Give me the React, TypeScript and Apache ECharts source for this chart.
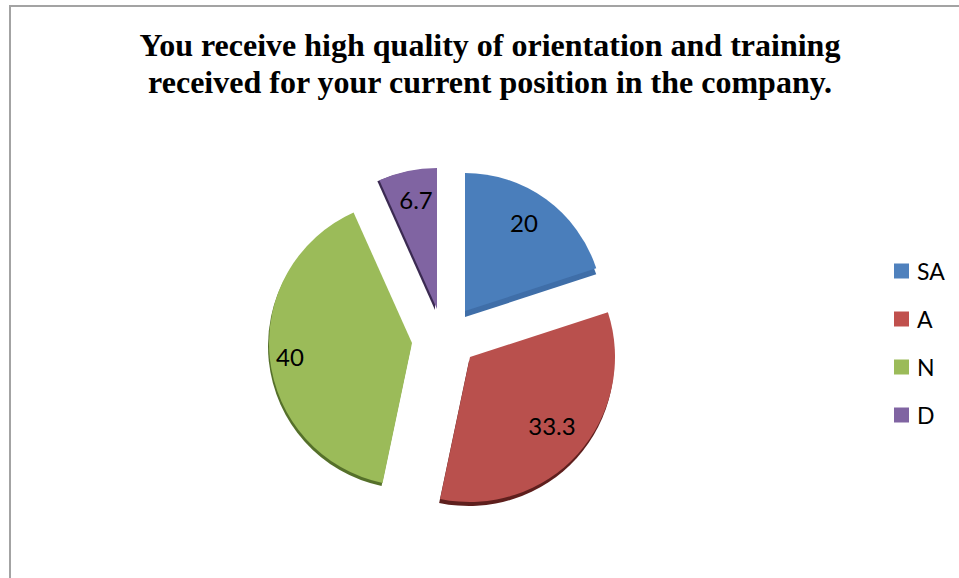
import React, { useEffect, useRef } from "react";
import * as echarts from "echarts";

const titleText = "You receive high quality of orientation and training\nreceived for your current position in the company.";
const categories = ["SA", "A", "N", "D"];
const values = [20, 33.3, 40, 6.7];
const legendColors = ["#4f81bd", "#c0504d", "#9bbb59", "#8064a2"];
const faceColors = ["#4a7ebb", "#b9504d", "#9bbb59", "#8064a2"];
const depthColors = ["#3f6ea8", "#5e1f1d", "#55702a", "#3b2a52"];
const sliceCenters = [[465, 311], [470, 357], [412, 343], [437, 309]];
const sliceRadii = [138, 145, 143, 141];
const depthShift = [[0, 6], [-1, 4], [-1, 3], [-2, 1]];
const labelSpots = [[524, 222], [552, 425], [290, 356], [416, 199]];

const sliceData = (active: number, colors: string[]) =>
  categories.map((name, i) => ({
    name,
    value: values[i],
    itemStyle: { color: i === active ? colors[i] : "rgba(0,0,0,0)" },
    label: { show: i === active },
  }));

const baseSeries = {
  type: "pie",
  startAngle: 90,
  clockwise: true,
  selectedMode: false,
  emphasis: { disabled: true },
  labelLine: { show: false },
  avoidLabelOverlap: false,
  minShowLabelAngle: 0,
};

export default function App() {
  const ref = useRef<HTMLDivElement>(null);
  useEffect(() => {
    document.body.style.margin = "0";
    const chart = echarts.init(ref.current!, null, { renderer: "svg" });
    const depth = categories.map((_, i) => ({
      ...baseSeries,
      silent: true,
      z: 1,
      center: [sliceCenters[i][0] + depthShift[i][0], sliceCenters[i][1] + depthShift[i][1]],
      radius: [0, sliceRadii[i]],
      label: { show: false },
      data: sliceData(i, depthColors).map((d) => ({ ...d, label: { show: false } })),
    }));
    const faces = categories.map((_, i) => ({
      ...baseSeries,
      z: 2,
      center: sliceCenters[i],
      radius: [0, sliceRadii[i]],
      label: {
        position: "inside",
        formatter: "{c}",
        fontFamily: "Lato",
        fontSize: 24,
        color: "#000",
      },
      labelLayout: { x: labelSpots[i][0], y: labelSpots[i][1], align: "center", verticalAlign: "middle" },
      data: sliceData(i, faceColors),
    }));
    chart.setOption({
      animation: false,
      backgroundColor: "#ffffff",
      title: {
        text: titleText,
        left: 485,
        top: 21,
        textAlign: "center",
        textStyle: { fontFamily: "Liberation Serif", fontWeight: "bold", fontSize: 32, lineHeight: 37, color: "#000" },
      },
      legend: {
        orient: "vertical",
        left: 889,
        top: 252,
        data: categories.map((name, i) => ({ name, itemStyle: { color: legendColors[i], opacity: 1 } })),
        icon: "rect",
        itemWidth: 15,
        itemHeight: 15,
        itemGap: 20,
        selectedMode: false,
        textStyle: { fontFamily: "Lato", fontSize: 23, lineHeight: 28, color: "#000", padding: [0, 0, 0, 3] },
      },
      graphic: [
        { type: "polyline", silent: true, shape: { points: [[10, 578], [10, 6], [959, 6]] }, style: { stroke: "#a3a3a3", lineWidth: 2, fill: "none" } },
      ],
      series: [...depth, ...faces],
    });
    return () => chart.dispose();
  }, []);
  return <div ref={ref} style={{ width: 959, height: 578 }} />;
}
